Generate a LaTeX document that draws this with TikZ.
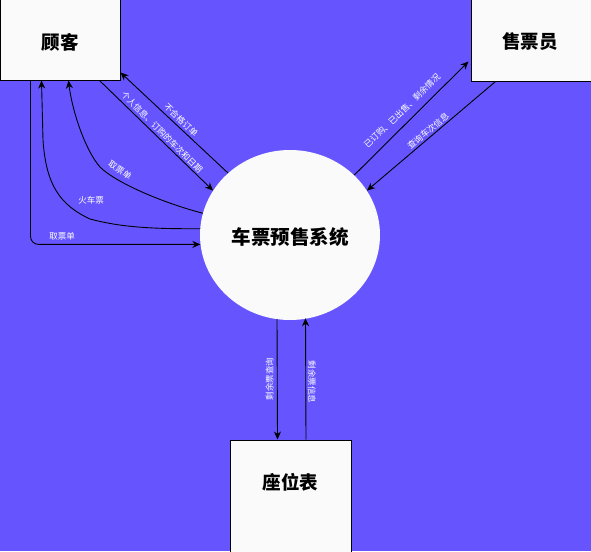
\documentclass[tikz,border=0pt]{standalone}
\usepackage{fontspec}
\setmainfont{Noto Sans CJK SC}
\newfontfamily\cjk{Noto Sans CJK SC}
\usetikzlibrary{arrows.meta,shapes.geometric}
\definecolor{bgblue}{RGB}{102,85,255}
\definecolor{boxfill}{RGB}{250,250,250}
\tikzset{
  entity/.style={draw=black,line width=1pt,fill=boxfill,rectangle,inner sep=0pt},
  titletext/.style={font=\cjk\bfseries\fontsize{18.5}{20}\selectfont,text=black,inner sep=0pt},
  flowlabel/.style={font=\cjk\fontsize{8.5}{10}\selectfont,text=white,inner sep=0pt},
  arr/.style={draw=black,line width=0.9pt,-{Stealth[length=8pt,width=7pt,inset=2.5pt]}},
  plainline/.style={draw=black,line width=0.9pt}
}
\begin{document}
\begin{tikzpicture}[x=1pt,y=-1pt]
\fill[bgblue] (0,0) rectangle (591,551);
\useasboundingbox (0,0) rectangle (591,551);

% entities
\node[entity,minimum width=120pt,minimum height=80pt] (cust) at (60,40) {};
\node[titletext] (custlabel) at (60,42) {顾客};
\node[entity,minimum width=120pt,minimum height=81pt] (clerk) at (531,40.5) {};
\node[titletext] (clerklabel) at (530,42) {售票员};
\node[entity,minimum width=121pt,minimum height=120pt] (seat) at (290.5,500) {};
\node[titletext] (seatlabel) at (290.5,482) {座位表};

% system
\node[ellipse,fill=boxfill,draw=none,minimum width=180pt,minimum height=170pt,inner sep=0pt] (sys) at (290,235) {};
\node[titletext,font=\cjk\bfseries\fontsize{19.5}{21}\selectfont] (syslabel) at (290,237) {车票预售系统};

% customer <-> system
\draw[arr] ([xshift=100pt]cust.south west) -- (sys.150);
\draw[arr] (sys.135) -- ([yshift=8pt]cust.south east);
\draw[arr] (sys.166) .. controls (160,202) and (115,182) .. (100,167)
                     .. controls (85,150) and (72,110) .. ([xshift=69pt]cust.south west);
\draw[arr] (sys.176) .. controls (150,229) and (120,227) .. (90,219)
                     .. controls (60,205) and (46,185) .. (43,140)
                     -- ([xshift=42pt]cust.south west);
\draw[arr,rounded corners=8pt] ([xshift=31pt]cust.south west) |- (sys.186);

% clerk <-> system
\draw[arr] (sys.43.6) -- ([xshift=-2pt,yshift=20pt]clerk.south west);
\draw[arr] ([xshift=25pt]clerk.south west) -- (sys.30.3);

% seat <-> system
\draw[arr] ([xshift=-13pt,yshift=1pt]sys.south) -- ([xshift=-13pt]seat.north);
\draw[arr] ([xshift=15.5pt]seat.north) -- ([xshift=15.5pt,yshift=2pt]sys.south);

% labels
\node[flowlabel,rotate=-45] (l1) at (162,132) {个人信息、订购的车次和日期};
\node[flowlabel,rotate=-43] (l2) at (181,120) {不合格订单};
\node[flowlabel,rotate=-33] (l3) at (120,170) {取票单};
\node[flowlabel] (l4) at (91,200) {火车票};
\node[flowlabel] (l5) at (62,236) {取票单};
\node[flowlabel,rotate=44] (l6) at (402,111) {已订购、已出售、剩余情况};
\node[flowlabel,rotate=40] (l7) at (428,131) {查询车次信息};
\node[flowlabel,rotate=90] (l8) at (269.5,379) {剩余票查询};
\node[flowlabel,rotate=-90] (l9) at (312,382) {剩余票信息};
\end{tikzpicture}
\end{document}
